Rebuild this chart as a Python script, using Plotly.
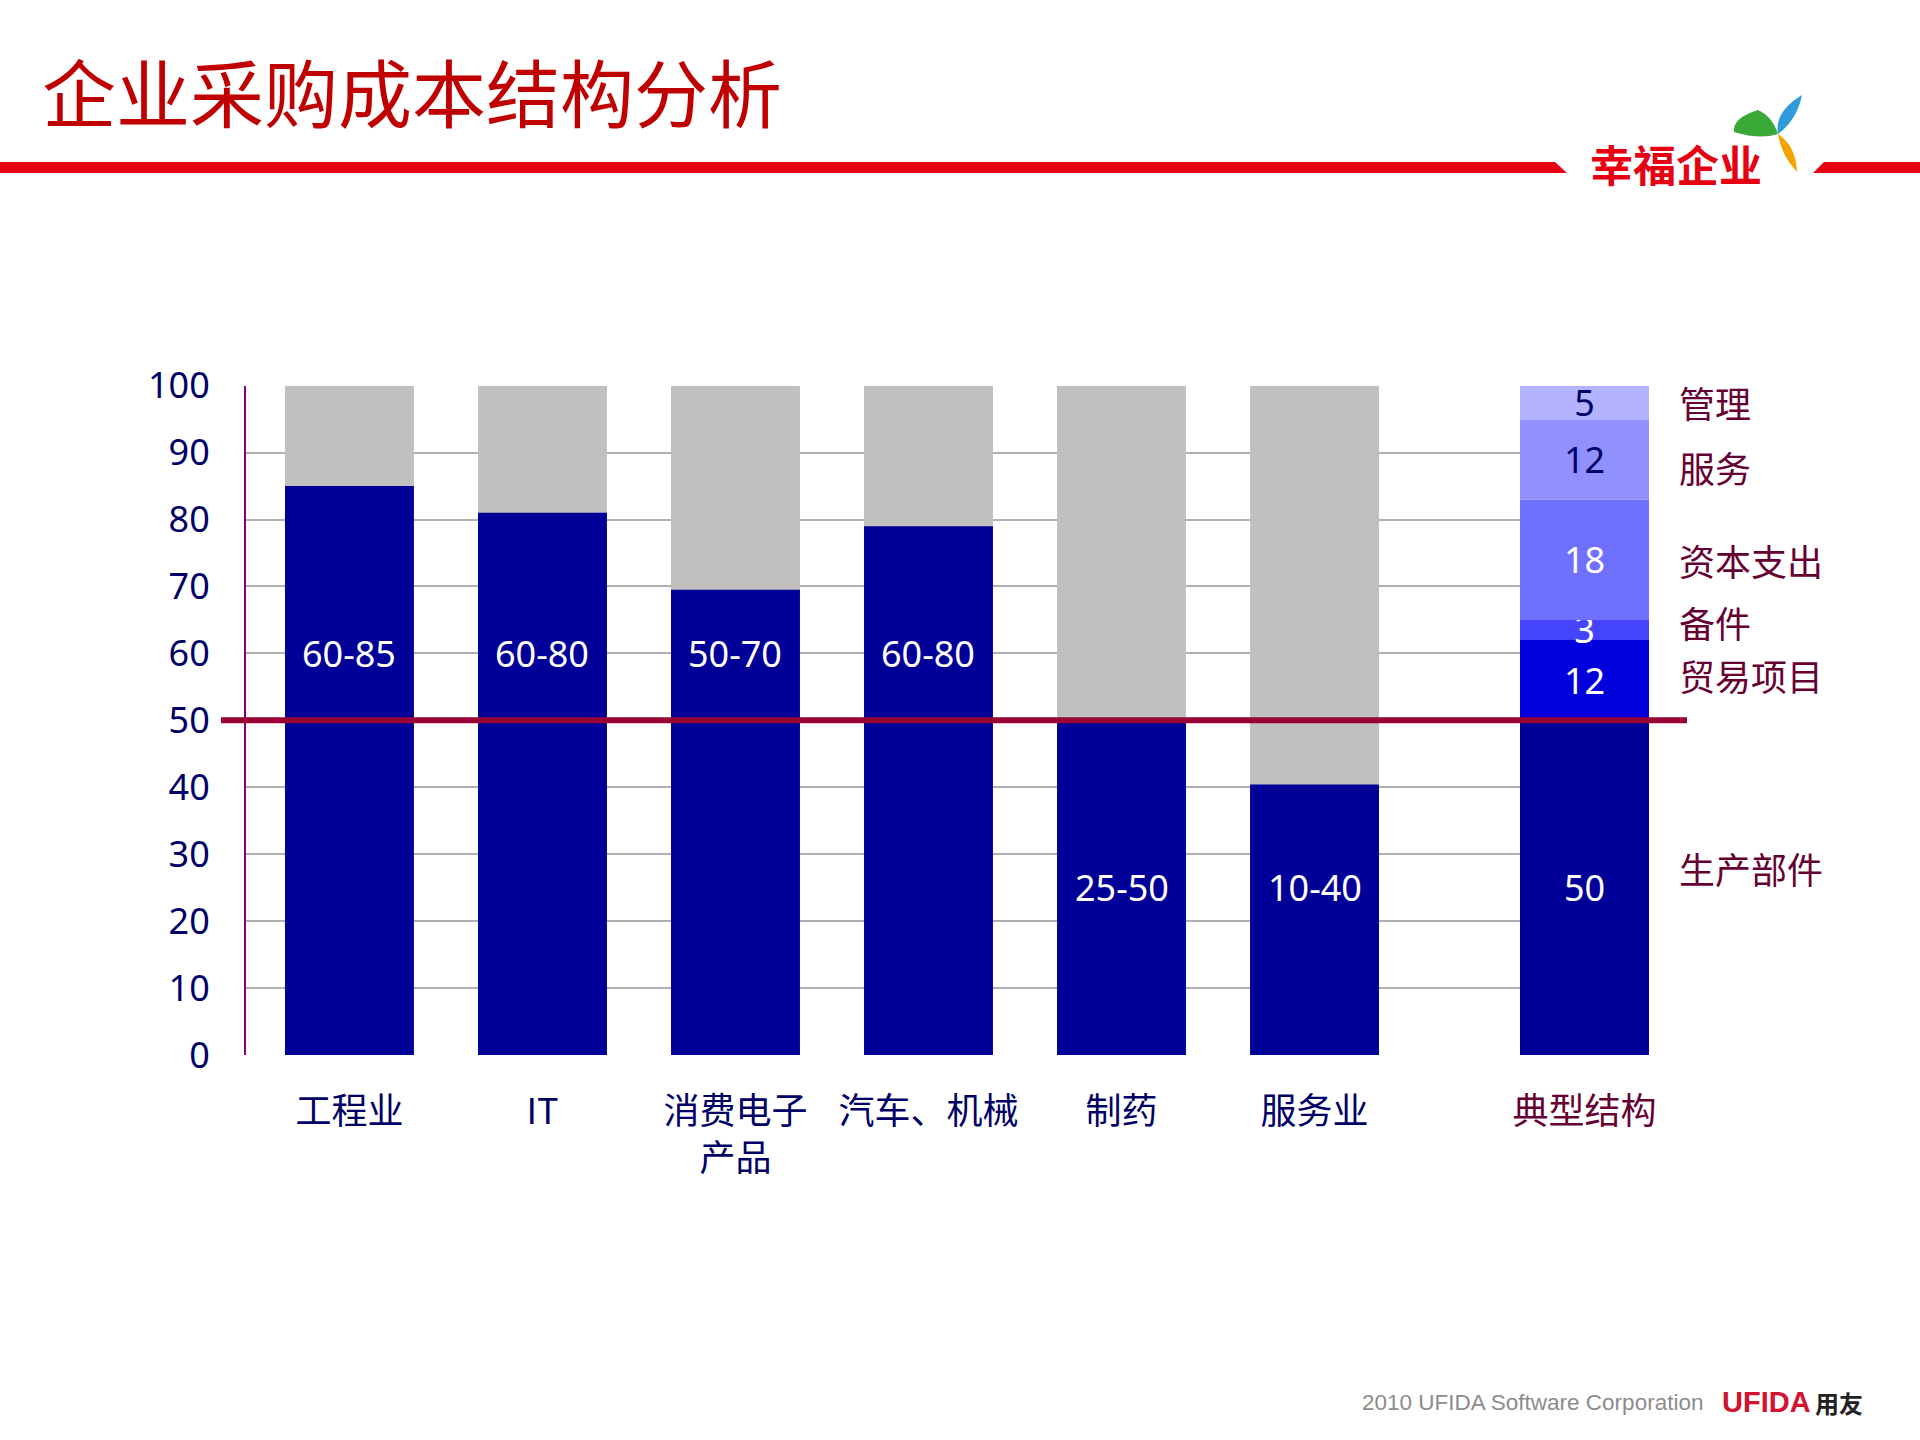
import plotly.graph_objects as go
import numpy as np

W, H = 1920, 1440

# ---------------- data ----------------
title_text = "企业采购成本结构分析"
industries = ["工程业", "IT", "消费电子<br>产品", "汽车、机械", "制药", "服务业"]
production_share = [85, 81, 69.5, 79, 50, 40.4]
total_share = [100, 100, 100, 100, 100, 100]
range_labels = ["60-85", "60-80", "50-70", "60-80", "25-50", "10-40"]

typical_category = ["典型结构"]
typical_segments = ["生产部件", "贸易项目", "备件", "资本支出", "服务", "管理"]
typical_values = [50, 12, 3, 18, 12, 5]

y_ticks = [0, 10, 20, 30, 40, 50, 60, 70, 80, 90, 100]
reference_level = 50

# ---------------- styling ----------------
NAVY = "#000066"
MAROON = "#660033"
DARK = "#000099"
GREY = "#C0C0C0"
FONT = "Noto Sans, Noto Sans CJK SC, sans-serif"
CJK = "Noto Sans CJK SC, sans-serif"
typical_colors = ["#000099", "#0000DD", "#4444FF", "#7070FF", "#9090FF", "#B3B3FF"]
typical_text_colors = ["white", "white", "white", "white", NAVY, NAVY]
range_label_y = [60, 60, 60, 60, 25, 25]
segment_label_yshift = [20, 5, 8, 0, -8, 0]

def px(x):
    return x / W

def py(y):
    return 1 - y / H

plot_top, plot_bottom = 385.7, 1055
ydom = [py(plot_bottom), py(plot_top)]

fig = go.Figure()

fig.add_trace(go.Bar(x=industries, y=total_share, marker_color=GREY, width=0.668,
                     marker_line_width=0, hoverinfo="skip", xaxis="x", yaxis="y"))
fig.add_trace(go.Bar(x=industries, y=production_share, marker_color=DARK, width=0.668,
                     marker_line_width=0, xaxis="x", yaxis="y"))

bases = np.concatenate([[0], np.cumsum(typical_values)[:-1]])
for name, v, b, c, tc in zip(typical_segments, typical_values, bases, typical_colors, typical_text_colors):
    fig.add_trace(go.Bar(x=typical_category, y=[v], base=[b], name=name, width=1,
                         marker_color=c, marker_line_width=0,
                         text=[str(v)], textposition="inside", insidetextanchor="middle",
                         textangle=0, textfont=dict(color=tc, size=36, family=FONT),
                         xaxis="x2", yaxis="y2"))

annotations = []
for cat, lab, yy in zip(industries, range_labels, range_label_y):
    annotations.append(dict(x=cat, y=yy, xref="x", yref="y", text=lab, showarrow=False,
                            font=dict(color="white", size=36, family=FONT)))

for name, v, b, ys in zip(typical_segments, typical_values, bases, segment_label_yshift):
    annotations.append(dict(x=px(1677), y=b + v / 2, xref="paper", yref="y", text=name,
                            showarrow=False, xanchor="left", yshift=ys,
                            font=dict(color=MAROON, size=36, family=CJK)))

annotations += [
    dict(x=px(40), y=py(89), xref="paper", yref="paper", text=title_text, showarrow=False,
         xanchor="left", yanchor="middle", font=dict(color="#C00000", size=74, family=CJK)),
    dict(x=px(1588), y=py(163), xref="paper", yref="paper", text="<b>幸福企业</b>", showarrow=False,
         xanchor="left", yanchor="middle", font=dict(color="#E60012", size=43, family=CJK)),
    dict(x=px(1705), y=py(1402), xref="paper", yref="paper", text="2010 UFIDA Software Corporation",
         showarrow=False, xanchor="right", yanchor="middle",
         font=dict(color="#8C8C8C", size=22.5, family="Liberation Sans, Arial")),
    dict(x=px(1720), y=py(1402), xref="paper", yref="paper", text="<b>UFIDA</b>",
         showarrow=False, xanchor="left", yanchor="middle",
         font=dict(color="#D2122E", size=29, family="Liberation Sans, Arial")),
    dict(x=px(1813), y=py(1402), xref="paper", yref="paper", text="<b>用友</b>",
         showarrow=False, xanchor="left", yanchor="middle",
         font=dict(color="#222222", size=24, family=CJK)),
]

def path(pts, closed=True):
    s = "M " + " L ".join(f"{px(x):.5f},{py(y):.5f}" for x, y in pts)
    return s + (" Z" if closed else "")

def qpath(start, segs):
    s = f"M {px(start[0]):.5f},{py(start[1]):.5f}"
    for (cx, cy), (ex, ey) in segs:
        s += f" Q {px(cx):.5f},{py(cy):.5f} {px(ex):.5f},{py(ey):.5f}"
    return s + " Z"

shapes = [
    # header red rule
    dict(type="path", xref="paper", yref="paper", layer="above",
         path=path([(0, 162), (1555, 162), (1567, 173), (0, 173)]),
         fillcolor="#E60012", line=dict(width=0)),
    dict(type="path", xref="paper", yref="paper", layer="above",
         path=path([(1824, 162), (1920, 162), (1920, 173), (1813, 173)]),
         fillcolor="#E60012", line=dict(width=0)),
    # pinwheel logo
    dict(type="path", xref="paper", yref="paper", layer="above",
         path=qpath((1802, 95), [((1774, 112), (1778, 134)), ((1797, 120), (1802, 95))]),
         fillcolor="#2E9BDB", line=dict(width=0)),
    dict(type="path", xref="paper", yref="paper", layer="above",
         path=qpath((1758, 110), [((1732, 118), (1734, 132)), ((1760, 140), (1778, 134)),
                                  ((1772, 116), (1758, 110))]),
         fillcolor="#3BA935", line=dict(width=0)),
    dict(type="path", xref="paper", yref="paper", layer="above",
         path=qpath((1778, 134), [((1796, 146), (1797, 172)), ((1781, 155), (1778, 134))]),
         fillcolor="#F5A300", line=dict(width=0)),
    # 50% reference line
    dict(type="line", xref="paper", yref="y", x0=px(221), x1=px(1687),
         y0=reference_level, y1=reference_level, layer="above",
         line=dict(color="#990033", width=6)),
]

fig.update_layout(
    width=W, height=H,
    margin=dict(l=0, r=0, t=0, b=0, pad=0, autoexpand=False),
    paper_bgcolor="white", plot_bgcolor="rgba(0,0,0,0)",
    barmode="overlay", showlegend=False,
    uniformtext=dict(minsize=36, mode="show"),
    font=dict(family=FONT, color=NAVY),
    xaxis=dict(domain=[px(246), px(1572)], type="category", range=[-0.536, 6.334],
               showgrid=False, zeroline=False, showline=False, ticks="",
               tickfont=dict(size=36, color=NAVY, family=CJK), ticklabelstandoff=32,
               anchor="y", automargin=False),
    yaxis=dict(domain=ydom, range=[0, 100], tickvals=y_ticks, showgrid=True,
               gridcolor="#B0B0B0", gridwidth=1.5, zeroline=False,
               showline=True, linecolor="#800080", linewidth=2, ticks="",
               tickfont=dict(size=36, color=NAVY, family=FONT), ticklabelstandoff=27,
               anchor="x", automargin=False),
    xaxis2=dict(domain=[px(1520), px(1649)], type="category", range=[-0.5, 0.5],
                showgrid=False, zeroline=False, showline=False, ticks="",
                tickfont=dict(size=36, color=MAROON, family=CJK), ticklabelstandoff=32,
                anchor="y2", automargin=False),
    yaxis2=dict(domain=ydom, range=[0, 100], showgrid=False, zeroline=False,
                showline=False, showticklabels=False, ticks="", anchor="x2",
                automargin=False),
    annotations=annotations,
    shapes=shapes,
)

fig.write_html("out.html", config={"displayModeBar": False},
               post_script="document.body.style.margin='0';")
